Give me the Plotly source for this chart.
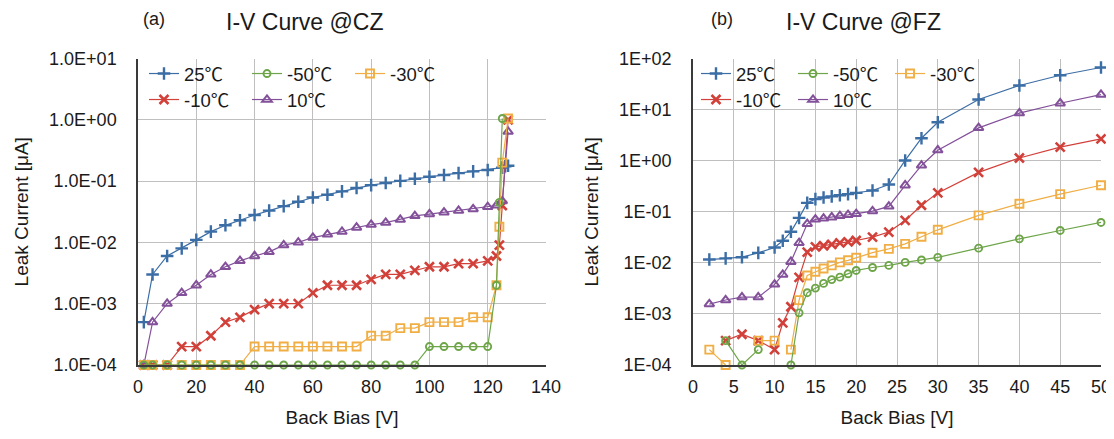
import plotly.graph_objects as go

# ---------------- data ----------------
series_names = ["25℃", "-10℃", "10℃", "-30℃", "-50℃"]

# (a) CZ
cz_x_main = [2, 5, 10, 15, 20, 25, 30, 35, 40, 45, 50, 55, 60, 65, 70, 75, 80, 85, 90, 95, 100, 105, 110, 115, 120]
cz_25_x = cz_x_main + [125, 126, 127]
cz_25 = [5e-4, 3e-3, 6e-3, 8e-3, 0.011, 0.015, 0.019, 0.023, 0.028, 0.033, 0.039, 0.046, 0.054, 0.060, 0.068,
         0.077, 0.086, 0.093, 0.101, 0.109, 0.118, 0.126, 0.135, 0.144, 0.152, 0.166, 0.175, 0.178]
cz_10_x = cz_x_main + [123, 125, 127]
cz_10 = [1e-4, 5e-4, 1e-3, 1.5e-3, 2e-3, 3e-3, 4e-3, 5e-3, 6e-3, 7e-3, 9e-3, 0.010, 0.012, 0.0135, 0.015,
         0.0175, 0.0195, 0.021, 0.0235, 0.027, 0.029, 0.031, 0.033, 0.035, 0.038, 0.040, 0.047, 0.64]
cz_m10_x = cz_x_main + [123, 124, 125, 127]
cz_m10 = [1e-4, 1e-4, 1e-4, 2e-4, 2e-4, 3e-4, 5e-4, 6e-4, 8e-4, 1e-3, 1e-3, 1e-3, 1.5e-3, 2e-3, 2e-3,
          2e-3, 2.5e-3, 3e-3, 3e-3, 3.5e-3, 4e-3, 4e-3, 4.5e-3, 4.5e-3, 5e-3, 6e-3, 9e-3, 0.04, 1.0]
cz_m30_x = cz_x_main + [123, 124, 125, 127]
cz_m30 = [1e-4, 1e-4, 1e-4, 1e-4, 1e-4, 1e-4, 1e-4, 1e-4, 2e-4, 2e-4, 2e-4, 2e-4, 2e-4, 2e-4, 2e-4,
          2e-4, 3e-4, 3e-4, 4e-4, 4e-4, 5e-4, 5e-4, 5e-4, 6e-4, 6e-4, 2e-3, 0.018, 0.2, 1.05]
cz_m50_x = cz_x_main + [123, 124, 125]
cz_m50 = [1e-4, 1e-4, 1e-4, 1e-4, 1e-4, 1e-4, 1e-4, 1e-4, 1e-4, 1e-4, 1e-4, 1e-4, 1e-4, 1e-4, 1e-4,
          1e-4, 1e-4, 1e-4, 1e-4, 1e-4, 2e-4, 2e-4, 2e-4, 2e-4, 2e-4, 2e-3, 0.045, 1.05]

# (b) FZ
fz_x = [2, 4, 6, 8, 10, 11, 12, 13, 14, 15, 16, 17, 18, 19, 20, 22, 24, 26, 28, 30, 35, 40, 45, 50]
fz_25 = [0.0116, 0.0122, 0.0129, 0.0157, 0.020, 0.027, 0.0405, 0.076, 0.149, 0.177, 0.19, 0.20, 0.211,
         0.221, 0.234, 0.261, 0.342, 1.01, 2.75, 5.66, 15.8, 29.6, 47, 66.7]
fz_10 = [1.56e-3, 1.87e-3, 2.13e-3, 2.13e-3, 3.78e-3, 5.9e-3, 0.0105, 0.0245, 0.058, 0.071, 0.074, 0.078,
         0.083, 0.087, 0.091, 0.103, 0.127, 0.33, 0.806, 1.60, 4.39, 8.5, 13.3, 19.7]
fz_m10 = [None, 3e-4, 4e-4, 3e-4, 2e-4, 6.7e-4, 1.38e-3, 5.2e-3, 0.0162, 0.0206, 0.0216, 0.0229, 0.0245,
          0.0257, 0.0274, 0.0318, 0.040, 0.0676, 0.134, 0.234, 0.59, 1.13, 1.84, 2.67]
fz_m30 = [2e-4, 1e-4, None, 3e-4, 3e-4, None, 2e-4, 1.86e-3, 5.66e-3, 6.67e-3, 7.76e-3, 8.9e-3, 0.0102,
          0.0112, 0.0126, 0.0158, 0.0188, 0.0235, 0.0324, 0.0443, 0.085, 0.143, 0.221, 0.33]
fz_m50 = [None, 3e-4, 1e-4, 2e-4, None, None, 1e-4, 1.05e-3, 2.6e-3, 3.2e-3, 3.96e-3, 4.7e-3, 5.24e-3,
          6.1e-3, 7.1e-3, 8.1e-3, 8.9e-3, 0.0102, 0.0114, 0.0128, 0.0194, 0.0295, 0.043, 0.0617]

cz_yticks = [1e-4, 1e-3, 1e-2, 1e-1, 1e0, 1e1]
cz_yticktext = ["1.0E-04", "1.0E-03", "1.0E-02", "1.0E-01", "1.0E+00", "1.0E+01"]
fz_yticks = [1e-4, 1e-3, 1e-2, 1e-1, 1e0, 1e1, 1e2]
fz_yticktext = ["1E-04", "1E-03", "1E-02", "1E-01", "1E+00", "1E+01", "1E+02"]

# ---------------- styles ----------------
FONT = "Liberation Sans, Arial, Noto Sans CJK JP, sans-serif"
TXT = "#1a1a1a"
styles = {
    "25℃": dict(color="#3C6EA6", symbol="cross-thin", size=9, lw=2.4, rank=1, row=1),
    "-10℃": dict(color="#D2403A", symbol="x-thin", size=9, lw=2.6, rank=1, row=2),
    "10℃": dict(color="#83509A", symbol="triangle-up-open", size=8.5, lw=2, rank=2, row=2),
    "-30℃": dict(color="#F0AE45", symbol="square-open", size=8, lw=1.9, rank=3, row=1),
    "-50℃": dict(color="#6DA548", symbol="circle-open", size=7, lw=1.9, rank=2, row=1),
}

fig = go.Figure()

def add(name, x, y, xa, ya, legends):
    s = styles[name]
    fig.add_trace(go.Scatter(
        x=x, y=y, name=name, mode="lines+markers", xaxis=xa, yaxis=ya,
        line=dict(color=s["color"], width=1.2),
        marker=dict(symbol=s["symbol"], size=s["size"], color=s["color"],
                    line=dict(color=s["color"], width=s["lw"])),
        legend=legends[s["row"] - 1], legendrank=s["rank"], cliponaxis=False,
        hoverinfo="skip",
    ))

cz = {"25℃": (cz_25_x, cz_25), "-10℃": (cz_m10_x, cz_m10), "10℃": (cz_10_x, cz_10),
      "-30℃": (cz_m30_x, cz_m30), "-50℃": (cz_m50_x, cz_m50)}
fz = {"25℃": fz_25, "-10℃": fz_m10, "10℃": fz_10, "-30℃": fz_m30, "-50℃": fz_m50}

for n in series_names:
    add(n, cz[n][0], cz[n][1], "x", "y", ["legend", "legend2"])
for n in series_names:
    add(n, fz_x, fz[n], "x2", "y2", ["legend3", "legend4"])

# the page body has an 8px default margin; the figure sits at (8, 8)
OFF = 8
W, H = 1114 - OFF, 439 - OFF
def px(v):
    return (v - OFF) / W
def py(v):
    return 1 - (v - OFF) / H

GRID = "#BFBFBF"
AX = "#3a3a3a"
tickfont = dict(family=FONT, size=18, color=TXT)
titlefont = dict(family=FONT, size=19, color=TXT)

common_x = dict(showgrid=True, gridcolor=GRID, gridwidth=1.3, showline=True, linecolor=AX, linewidth=1.5,
                zeroline=False, ticks="", tickfont=tickfont, ticklabelstandoff=5, automargin=False)
common_y = dict(type="log", showgrid=True, gridcolor=GRID, gridwidth=1.3, showline=True, linecolor=AX,
                linewidth=1.5, zeroline=False, ticks="", tickfont=tickfont, ticklabelstandoff=16,
                automargin=False)

fig.update_layout(
    width=W, height=H, autosize=False,
    margin=dict(l=0, r=0, t=0, b=0, autoexpand=False),
    paper_bgcolor="white", plot_bgcolor="white",
    font=dict(family=FONT, color=TXT),
    xaxis=dict(domain=[px(138), px(546)], range=[0, 140], dtick=20, anchor="y",
               title=dict(text="Back Bias [V]", font=titlefont, standoff=14), **common_x),
    yaxis=dict(domain=[py(365), py(58.5)], range=[-4, 1], tickvals=cz_yticks, ticktext=cz_yticktext,
               anchor="x", title=dict(text="Leak Current [μA]", font=titlefont, standoff=15), **common_y),
    xaxis2=dict(domain=[px(693), px(1101)], range=[0, 50], dtick=5, anchor="y2",
                title=dict(text="Back Bias [V]", font=titlefont, standoff=14), **common_x),
    yaxis2=dict(domain=[py(365), py(58.5)], range=[-4, 2], tickvals=fz_yticks, ticktext=fz_yticktext,
                anchor="x2", title=dict(text="Leak Current [μA]", font=titlefont, standoff=15), **common_y),
    showlegend=True,
)

leg_common = dict(orientation="h", bgcolor="rgba(0,0,0,0)", borderwidth=0, xanchor="left",
                  yanchor="middle", font=dict(family=FONT, size=18.5, color=TXT),
                  entrywidth=58, entrywidthmode="pixels", itemclick=False, itemdoubleclick=False,
                  tracegroupgap=0)
fig.update_layout(
    legend=dict(x=px(144), y=py(74), **leg_common),
    legend2=dict(x=px(144), y=py(100), **leg_common),
    legend3=dict(x=px(696), y=py(74), **{**leg_common, "entrywidth": 52}),
    legend4=dict(x=px(696), y=py(100), **{**leg_common, "entrywidth": 52}),
)

ann = [
    ("(a)", 154, 18), ("I-V Curve @CZ", 305, 23),
    ("(b)", 722, 18), ("I-V Curve @FZ", 863, 23),
]
for t, x, s in ann:
    fig.add_annotation(text=t, x=px(x), y=1, xref="paper", yref="paper", showarrow=False,
                       xanchor="center", yanchor="top", borderpad=0,
                       font=dict(family=FONT, size=s, color=TXT))

fig.write_html("out.html")
